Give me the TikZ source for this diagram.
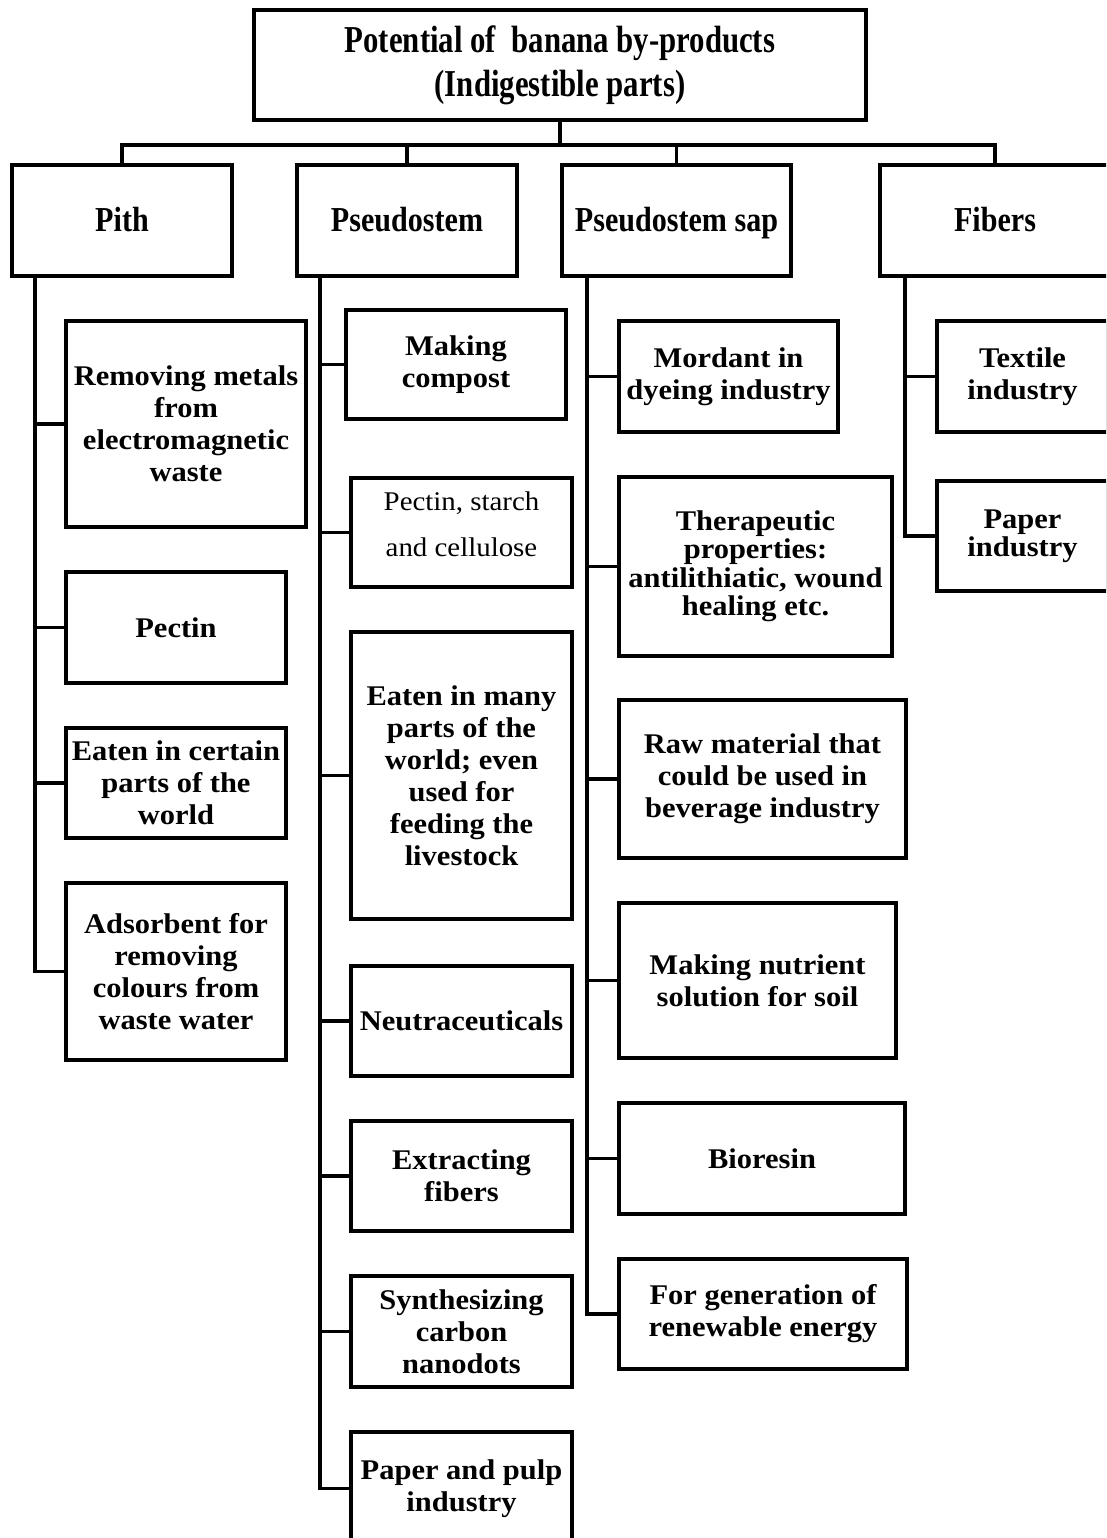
\documentclass[tikz,border=0pt]{standalone}
\usepackage{fontspec}
\setmainfont{Liberation Serif}
\newfontfamily\leaffont{Liberation Serif}[FakeStretch=1.07]
\newfontfamily\headfont{Liberation Serif}[FakeStretch=0.86]
\newfontfamily\titlefont{Liberation Serif}[FakeStretch=0.81]
\newfontfamily\regfont{Liberation Serif}[FakeStretch=1.07]
\newcommand\mkbox[7]{\node[#1,minimum width={(#4)-(#2)},minimum height={(#5)-(#3)}] (#6) at ({((#2)+(#4))/2},{((#3)+(#5))/2}) {#7};}
\tikzset{
  bx/.style={draw, line width=3.5pt, rectangle, inner sep=0pt, align=center},
  titlebox/.style={bx, font=\titlefont\bfseries\fontsize{38}{44}\selectfont},
  headbox/.style={bx, text height=27pt, text depth=5pt, font=\headfont\bfseries\fontsize{35}{36}\selectfont},
  leaf/.style={bx, font=\leaffont\bfseries\fontsize{28.5}{32}\selectfont},
  leaftight/.style={bx, font=\leaffont\bfseries\fontsize{28.5}{28.5}\selectfont},
  leafreg/.style={bx, text depth=17pt, font=\regfont\fontsize{27}{46}\selectfont},
  conn/.style={line width=3.5pt, line cap=rect}
}
\begin{document}
\begin{tikzpicture}[x=1pt,y=-1pt]
\useasboundingbox (0,0) rectangle (1106,1538);
\clip (0,0) rectangle (1106,1538);
\fill[white] (0,0) rectangle (1106,1538);
% title
\mkbox{titlebox}{254}{10}{866}{120}{title}{Potential of~ banana by-products\\(Indigestible parts)}
% level 1
\mkbox{headbox}{12}{165}{232}{276}{pith}{Pith}
\mkbox{headbox}{297}{165}{517}{276}{pseudo}{Pseudostem}
\mkbox{headbox}{562}{165}{791}{276}{sap}{Pseudostem sap}
\mkbox{headbox}{880}{165}{1110}{276}{fibers}{Fibers}
\coordinate (bus) at (560,145);
\draw[conn] (title.south) -- (bus);
\draw[conn] (pith.north) |- (bus);
\draw[conn] (pseudo.north) |- (bus);
\draw[conn] (sap.north) |- (bus);
\draw[conn] (fibers.north) |- (bus);
% Pith children
\mkbox{leaf}{66}{321}{306}{527}{p1}{Removing metals\\from\\electromagnetic\\waste}
\mkbox{leaf}{66}{572}{286}{683}{p2}{Pectin}
\mkbox{leaf}{66}{728}{286}{838}{p3}{Eaten in certain\\parts of the\\world}
\mkbox{leaf}{66}{883}{286}{1060}{p4}{Adsorbent for\\removing\\colours from\\waste water}
\coordinate (pitht) at (35,276);
\foreach \c in {p1,p2,p3,p4} \draw[conn] (pitht) |- (\c.west);
% Pseudostem children
\mkbox{leaf}{346}{310}{566}{419}{s1}{Making\\compost}
\mkbox{leafreg}{351}{478}{572}{587}{s2}{Pectin, starch\\and cellulose}
\mkbox{leaf}{351}{632}{572}{919}{s3}{Eaten in many\\parts of the\\world; even\\used for\\feeding the\\livestock}
\mkbox{leaf}{351}{966}{572}{1076}{s4}{Neutraceuticals}
\mkbox{leaf}{351}{1121}{572}{1231}{s5}{Extracting\\fibers}
\mkbox{leaf}{351}{1276}{572}{1387}{s6}{Synthesizing\\carbon\\nanodots}
\mkbox{leaf}{351}{1432}{572}{1545}{s7}{Paper and pulp\\industry}
\coordinate (pseudot) at (320,276);
\foreach \c in {s1,s2,s3,s4,s5,s6,s7} \draw[conn] (pseudot) |- (\c.west);
% Sap children
\mkbox{leaf}{619}{321}{838}{432}{a1}{Mordant in\\dyeing industry}
\mkbox{leaftight}{619}{477}{892}{656}{a2}{Therapeutic\\properties:\\antilithiatic, wound\\healing etc.}
\mkbox{leaf}{619}{700}{906}{858}{a3}{Raw material that\\could be used in\\beverage industry}
\mkbox{leaf}{619}{903}{896}{1058}{a4}{Making nutrient\\solution for soil}
\mkbox{leaf}{619}{1103}{905}{1214}{a5}{Bioresin}
\mkbox{leaf}{619}{1259}{907}{1369}{a6}{For generation of\\renewable energy}
\coordinate (sapt) at (587,276);
\foreach \c in {a1,a2,a3,a4,a5,a6} \draw[conn] (sapt) |- (\c.west);
% Fibers children
\mkbox{leaf}{937}{321}{1108}{432}{f1}{Textile\\industry}
\mkbox{leaftight}{937}{481}{1108}{591}{f2}{Paper\\industry}
\coordinate (fibt) at (905,276);
\foreach \c in {f1,f2} \draw[conn] (fibt) |- (\c.west);
\end{tikzpicture}
\end{document}
